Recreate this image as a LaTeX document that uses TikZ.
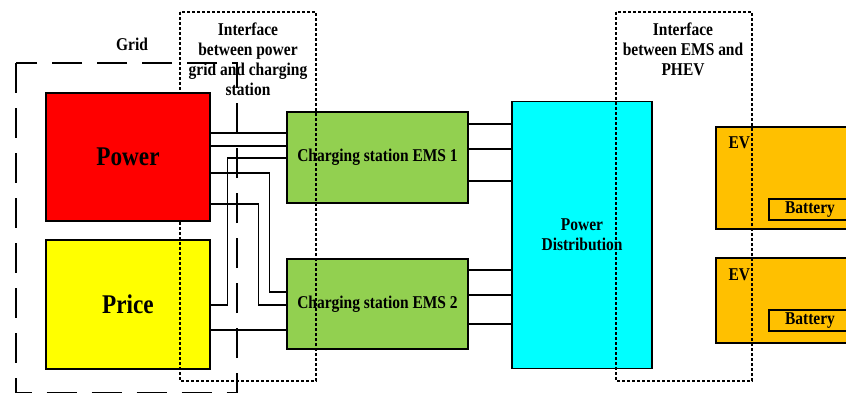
\documentclass[tikz,border=0pt]{standalone}
\usepackage{fontspec}
\setmainfont{Liberation Serif}[FakeStretch=0.86]
\usetikzlibrary{positioning,calc}
\definecolor{gridred}{HTML}{FF0000}
\definecolor{priceyellow}{HTML}{FFFF00}
\definecolor{emsgreen}{HTML}{92D050}
\definecolor{distcyan}{HTML}{00FFFF}
\definecolor{evorange}{HTML}{FFC000}
\pgfdeclarelayer{top}
\pgfsetlayers{main,top}

\begin{document}
\begin{tikzpicture}[
  x=1pt, y=-1pt,
  blk/.style={draw=black, line width=1.3pt, inner sep=0pt, align=center,
              font=\fontsize{18}{20}\selectfont\bfseries},
  big/.style={blk, font=\fontsize{27}{28}\selectfont\bfseries},
  lbl/.style={inner sep=0pt, align=center, font=\fontsize{18}{20}\selectfont\bfseries},
  wire/.style={draw=black, line width=1.2pt},
  iface/.style={draw=black, line width=1.4pt, dash pattern=on 3pt off 2pt},
  gridbox/.style={draw=black, line width=1.2pt, dash pattern=on 30pt off 15pt}
]
\useasboundingbox (0,0) rectangle (846,394);
\clip (0,0) rectangle (846,394);

% ── Grid ──────────────────────────────────────────────────────
\begin{pgfonlayer}{top}
\node[big, fill=gridred, minimum width=164pt, minimum height=128pt] (power) at (128,157) {Power};
\end{pgfonlayer}
\node[big, fill=priceyellow, minimum width=164pt, minimum height=129pt] (price) at (128,304.5) {Price};

% ── Charging stations ─────────────────────────────────────────
\node[blk, fill=emsgreen, minimum width=181pt, minimum height=91pt] (ems1) at (377.5,157.5) {Charging station EMS 1};
\node[blk, fill=emsgreen, minimum width=181pt, minimum height=90pt] (ems2) at (377.5,304) {Charging station EMS 2};

% ── Distribution and vehicles ─────────────────────────────────
\node[blk, fill=distcyan, minimum width=140pt, minimum height=267pt] (pd) at (582,235) {Power\\Distribution};
\node[blk, fill=evorange, minimum width=164pt, minimum height=102pt] (ev1) at (798,178) {};
\node[blk, fill=evorange, minimum width=164pt, minimum height=85pt] (ev2) at (798,300.5) {};
\node[lbl] (ev1lbl) at ([xshift=24pt,yshift=-16pt]ev1.north west) {EV};
\node[lbl] (ev2lbl) at ([xshift=24pt,yshift=-17pt]ev2.north west) {EV};
\node[blk, fill=evorange, minimum width=82pt, minimum height=21pt] (bat1) at (810,209.5) {Battery};
\node[blk, fill=evorange, minimum width=82pt, minimum height=21pt] (bat2) at (810,320.5) {Battery};

% ── Wires ─────────────────────────────────────────────────────
\draw[wire] (power.east |- 0,133) -- (ems1.west |- 0,133);
\draw[wire] (power.east |- 0,146) -- (ems1.west |- 0,146);
\draw[wire] (price.east |- 0,305) -- ++(17,0) |- (ems1.west |- 0,158);
\draw[wire] (power.east |- 0,173) -- ++(59,0) |- (ems2.west |- 0,292);
\draw[wire] (power.east |- 0,204) -- ++(48,0) |- (ems2.west |- 0,305);
\draw[wire] (price.east |- 0,330) -- (ems2.west |- 0,330);
\foreach \y in {124,149,181} \draw[wire] (ems1.east |- 0,\y) -- (pd.west |- 0,\y);
\foreach \y in {270,295,324} \draw[wire] (ems2.east |- 0,\y) -- (pd.west |- 0,\y);

% ── Interfaces ────────────────────────────────────────────────
\draw[iface] (180,12) rectangle (316,381);
\draw[iface] (616,12) rectangle (752,381);
\node[lbl] (ifgrid) at (248,59) {Interface\\between power\\grid and charging\\station};
\node[lbl] (ifev) at (683,49) {Interface\\between EMS and\\PHEV};

% ── Grid boundary ─────────────────────────────────────────────
\draw[gridbox] (16,63) rectangle (237,392.5);
\node[lbl] (gridlbl) at (132,44) {Grid};
\end{tikzpicture}
\end{document}
